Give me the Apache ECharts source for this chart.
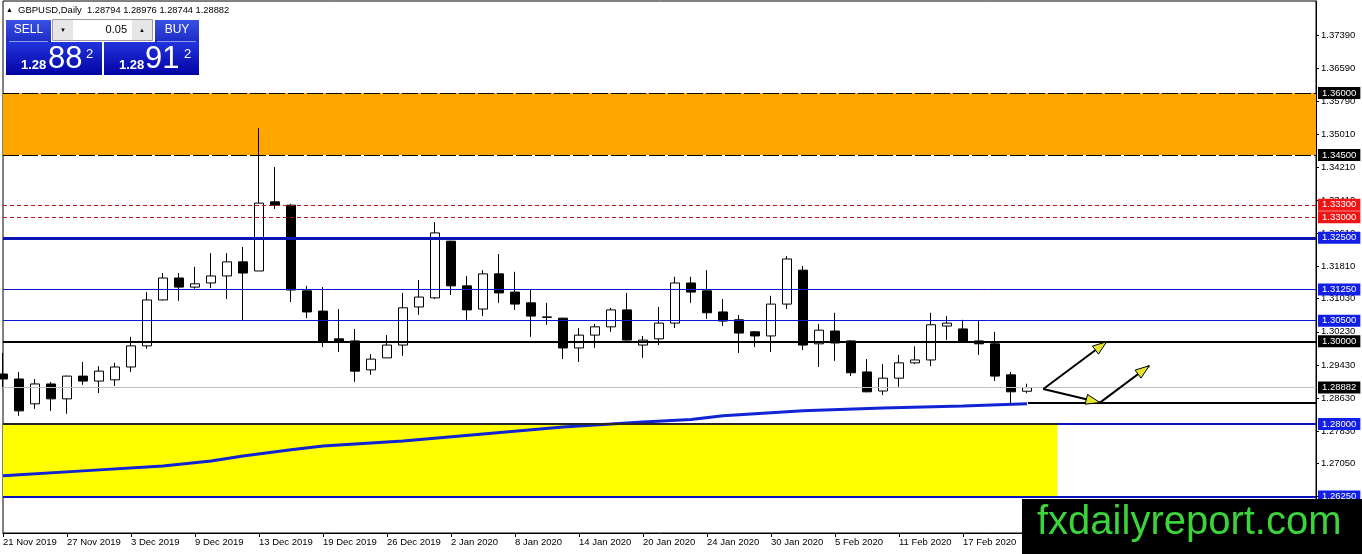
<!DOCTYPE html>
<html><head><meta charset="utf-8">
<script src="https://cdn.jsdelivr.net/npm/echarts@6/dist/echarts.min.js"></script>
<style>html,body{margin:0;padding:0;background:#fff;overflow:hidden}#c{width:1362px;height:554px}</style>
</head><body><div id="c"></div>
<script>
// ---------------- DATA ----------------
const symbolName = 'GBPUSD';
const timeframe = 'Daily';
const dates = ['21 Nov 2019','22 Nov 2019','25 Nov 2019','26 Nov 2019','27 Nov 2019','28 Nov 2019','29 Nov 2019','2 Dec 2019','3 Dec 2019','4 Dec 2019','5 Dec 2019','6 Dec 2019','9 Dec 2019','10 Dec 2019','11 Dec 2019','12 Dec 2019','13 Dec 2019','16 Dec 2019','17 Dec 2019','18 Dec 2019','19 Dec 2019','20 Dec 2019','23 Dec 2019','24 Dec 2019','26 Dec 2019','27 Dec 2019','30 Dec 2019','31 Dec 2019','2 Jan 2020','3 Jan 2020','6 Jan 2020','7 Jan 2020','8 Jan 2020','9 Jan 2020','10 Jan 2020','13 Jan 2020','14 Jan 2020','15 Jan 2020','16 Jan 2020','17 Jan 2020','20 Jan 2020','21 Jan 2020','22 Jan 2020','23 Jan 2020','24 Jan 2020','27 Jan 2020','28 Jan 2020','29 Jan 2020','30 Jan 2020','31 Jan 2020','3 Feb 2020','4 Feb 2020','5 Feb 2020','6 Feb 2020','7 Feb 2020','10 Feb 2020','11 Feb 2020','12 Feb 2020','13 Feb 2020','14 Feb 2020','17 Feb 2020','18 Feb 2020','19 Feb 2020','20 Feb 2020','21 Feb 2020'];
const opens  = [1.2921,1.2909,1.2849,1.2897,1.2861,1.2916,1.2904,1.2907,1.2938,1.2989,1.3100,1.3153,1.3131,1.3141,1.3158,1.3192,1.3170,1.3337,1.3329,1.3122,1.3073,1.3006,1.3001,1.2931,1.2960,1.2991,1.3083,1.3105,1.3242,1.3134,1.3078,1.3163,1.3119,1.3093,1.3059,1.3056,1.2984,1.3015,1.3035,1.3076,1.2991,1.3006,1.3044,1.3141,1.3122,1.3071,1.3052,1.3023,1.3013,1.3090,1.3172,1.2994,1.3025,1.3001,1.2926,1.2880,1.2911,1.2948,1.2955,1.3037,1.3030,1.3001,1.2994,1.2919,1.28794];
const closes = [1.2909,1.2832,1.2897,1.2861,1.2916,1.2904,1.2928,1.2938,1.2989,1.3100,1.3153,1.3131,1.3139,1.3158,1.3192,1.3165,1.3334,1.3329,1.3124,1.3071,1.3001,1.2998,1.2928,1.2957,1.2991,1.3081,1.3107,1.3262,1.3134,1.3076,1.3163,1.3117,1.3090,1.3061,1.3058,1.2984,1.3015,1.3035,1.3076,1.3003,1.3003,1.3044,1.3141,1.3119,1.3069,1.3049,1.3020,1.3013,1.3090,1.3199,1.2991,1.3027,1.2996,1.2924,1.2878,1.2911,1.2948,1.2955,1.3040,1.3044,1.3001,1.2994,1.2916,1.2878,1.28882];
const lows   = [1.2890,1.2820,1.2837,1.2832,1.2825,1.2895,1.2875,1.2892,1.2926,1.2982,1.3099,1.3098,1.3127,1.3129,1.3102,1.3049,1.3170,1.3320,1.3095,1.3056,1.2986,1.2974,1.2902,1.2919,1.2960,1.2965,1.3064,1.3102,1.3112,1.3052,1.3061,1.3093,1.3076,1.3011,1.3040,1.2957,1.2950,1.2984,1.3023,1.3002,1.2960,1.2991,1.3032,1.3093,1.3054,1.3037,1.2972,1.2986,1.2974,1.3078,1.2979,1.2938,1.2953,1.2916,1.2877,1.2870,1.2890,1.2945,1.2940,1.3003,1.2996,1.2967,1.2904,1.2849,1.28744];
const highs  = [1.2972,1.2926,1.2909,1.2902,1.2917,1.2950,1.2940,1.2948,1.3011,1.3119,1.3165,1.3165,1.3180,1.3213,1.3213,1.3228,1.3515,1.3421,1.3332,1.3134,1.3131,1.3078,1.3030,1.2969,1.3015,1.3117,1.3148,1.3288,1.3243,1.3158,1.3172,1.3211,1.3168,1.3124,1.3093,1.3057,1.3032,1.3042,1.3081,1.3117,1.3013,1.3083,1.3156,1.3156,1.3172,1.3102,1.3064,1.3025,1.3110,1.3206,1.3182,1.3042,1.3069,1.3002,1.2957,1.2945,1.2967,1.2988,1.3069,1.3061,1.3052,1.3049,1.3023,1.2926,1.28976];
// moving average read at a few candles
const maIndex  = [0,5,10,13,15,18,20,25,30,35,38,40,43,45,50,55,60,64];
const maValues = [1.2675,1.2687,1.2699,1.2711,1.2723,1.2738,1.2747,1.2759,1.2776,1.2793,1.2800,1.2805,1.2811,1.2820,1.2832,1.2839,1.2844,1.2849];
const yTickValues = [1.37390,1.36590,1.35790,1.35010,1.34210,1.33410,1.32610,1.31810,1.31030,1.30230,1.29430,1.28630,1.27830,1.27050,1.26250];
const xTickIndex = [0,4,8,12,16,20,24,28,32,36,40,44,48,52,56,60];
// drawn levels and zones
const orangeZone = [1.3450, 1.3600];
const yellowZone = [1.2625, 1.2800];
const yellowZoneEnd = 65.9;
const redLevels = [1.3330, 1.3300];
const blueThickLevel = 1.3250;
const blueThinLevels = [1.3125, 1.3050];
const blackLevel = 1.3000;
const supportLevel = 1.2800;
const lowerLevel = 1.2625;
const trendLevel = 1.2851, trendStart = 64.06;
const bid = 1.28882, ask = 1.28912, lot = '0.05';
// arrows: [fromIndex, fromPrice, toIndex, toPrice]
const arrows = [[65.02,1.2885,68.98,1.2999],[65.02,1.2885,68.56,1.2852],[68.56,1.2852,71.64,1.2941]];

// ---------------- CHART ----------------
const FONT = 'Liberation Sans';
const candles = dates.map((d,i)=>[i, opens[i], closes[i], lows[i], highs[i]]);
const maData = maIndex.map((x,i)=>[x, maValues[i]]);
const BLUE_LINE = '#0b14b4', BLUE_THIN = '#0a16d0', BLUE_BOX = '#1220e6', RED_BOX = '#f01414';

function lvl(value, lineStyle, bg) {
  const item = { yAxis: value, lineStyle: lineStyle, label: { show: false } };
  if (bg) item.label = { show: true, position: 'end', distance: 2, formatter: value.toFixed(5),
    backgroundColor: bg, color: '#fff', padding: [1,4,0,4], fontSize: 9.5, fontFamily: FONT, lineHeight: 11 };
  return item;
}
const markLines = [
  lvl(orangeZone[1], {color:'#000', width:1, type:[16,3]}, '#000'),
  lvl(orangeZone[0], {color:'#000', width:1, type:[16,3]}, '#000'),
  lvl(redLevels[0], {color:'#b81818', width:1, type:[4,3]}, RED_BOX),
  lvl(redLevels[1], {color:'#b81818', width:1, type:[4,3]}, RED_BOX),
  lvl(blueThickLevel, {color:BLUE_LINE, width:3, type:'solid'}, BLUE_BOX),
  lvl(blueThinLevels[0], {color:BLUE_THIN, width:1, type:'solid'}, BLUE_BOX),
  lvl(blueThinLevels[1], {color:BLUE_THIN, width:1, type:'solid'}, BLUE_BOX),
  lvl(blackLevel, {color:'#000', width:2, type:'solid'}, '#000'),
  lvl(bid, {color:'#c0c0c0', width:1, type:'solid'}, '#000'),
  lvl(supportLevel, {color:BLUE_LINE, width:2, type:'solid'}, BLUE_BOX),
  lvl(lowerLevel, {color:BLUE_LINE, width:2, type:'solid'}, BLUE_BOX),
  [{coord:[0, supportLevel], lineStyle:{color:'#262626', width:2, type:'solid'}, label:{show:false}}, {coord:[yellowZoneEnd, supportLevel]}],
  [{coord:[trendStart, trendLevel], lineStyle:{color:'#000', width:2, type:'solid'}, label:{show:false}}, {coord:[1313/16, trendLevel]}]
];

const chart = echarts.init(document.getElementById('c'), null, {renderer:'canvas'});
const grad = (a,b)=>new echarts.graphic.LinearGradient(0,0,0,1,[{offset:0,color:a},{offset:1,color:b}]);
const bidStr = bid.toFixed(5), askStr = ask.toFixed(5);
const last = opens.length - 1;
const header = [opens[last], highs[last], lows[last], closes[last]].map(v=>v.toFixed(5)).join(' ');
const Z = 100;
const T = (text, x, y, size, opt) => Object.assign({type:'text', z:Z, style:Object.assign({text, x, y, font: size+'px '+FONT, fill:'#fff', verticalAlign:'middle'}, opt||{})});

chart.setOption({
  animation: false,
  backgroundColor: '#fff',
  grid: { left: 3, right: 46, top: 1, bottom: 21, show: true, borderColor: '#000', borderWidth: 1, backgroundColor: '#fff' },
  xAxis: {
    type: 'value', min: 0, max: 1313/16,
    axisLine: { show: true, onZero: false, lineStyle: { color: '#000', width: 1 } },
    axisTick: { show: true, customValues: xTickIndex, length: 4, lineStyle: { color: '#000' } },
    axisLabel: { customValues: xTickIndex, formatter: v => dates[Math.round(v)], align: 'left', margin: 4,
      color: '#000', fontSize: 9.5, fontFamily: FONT },
    splitLine: { show: false }
  },
  yAxis: {
    type: 'value', position: 'right', min: 1.25369, max: 1.38223,
    axisLine: { show: true, onZero: false, lineStyle: { color: '#000', width: 1 } },
    axisTick: { show: true, customValues: yTickValues, length: 3, lineStyle: { color: '#000' } },
    axisLabel: { customValues: yTickValues, formatter: v => v.toFixed(5), margin: 5, color: '#000', fontSize: 9.5, fontFamily: FONT },
    splitLine: { show: false }
  },
  series: [
    {
      type: 'line', name: 'MA', data: maData, showSymbol: false, clip: false, z: 1,
      lineStyle: { color: '#1024d4', width: 3 }, silent: true,
      markArea: {
        silent: true, label: { show: false },
        data: [
          [{ yAxis: orangeZone[0], itemStyle: { color: '#ffa500' } }, { yAxis: orangeZone[1] }],
          [{ coord: [0, yellowZone[0]], itemStyle: { color: '#ffff00' } }, { coord: [yellowZoneEnd, yellowZone[1]] }]
        ]
      },
      markLine: { silent: true, precision: 5, symbol: ['none','none'], animation: false, label: { show: false }, data: markLines }
    },
    {
      type: 'candlestick', name: symbolName, data: candles, barWidth: 10, z: 3,
      itemStyle: { color: '#fff', color0: '#000', borderColor: '#000', borderColor0: '#000', borderWidth: 1 }
    },
    {
      type: 'custom', name: 'arrows', data: arrows, encode: { x: [0,2], y: [1,3] }, z: 6, clip: false, silent: true,
      renderItem: (params, api) => {
        const a = api.coord([api.value(0), api.value(1)]);
        const b = api.coord([api.value(2), api.value(3)]);
        const dx = b[0]-a[0], dy = b[1]-a[1], len = Math.hypot(dx,dy), ux = dx/len, uy = dy/len;
        const L = 14, W = 5, bx = b[0]-ux*L, by = b[1]-uy*L;
        return { type: 'group', children: [
          { type: 'line', shape: { x1:a[0], y1:a[1], x2:b[0], y2:b[1] }, style: { stroke:'#000', lineWidth:2 } },
          { type: 'polygon', shape: { points: [b, [bx-uy*W, by+ux*W], [bx+uy*W, by-ux*W]] }, style: { fill:'#e4e42c', stroke:'#000', lineWidth:1 } }
        ]};
      }
    }
  ],
  graphic: { elements: [
    T('▲', 6, 10, 7, {fill:'#000'}),
    T(symbolName + ',' + timeframe, 18, 10, 9.5, {fill:'#000'}),
    T(header, 87, 10, 9.3, {fill:'#000'}),
    // SELL header
    { type:'rect', z:Z, shape:{x:6,y:20,width:45,height:22}, style:{fill:grad('#3a50e4','#1c2cc4')} },
    T('SELL', 28.5, 30, 12, {align:'center'}),
    { type:'line', z:Z, shape:{x1:9,y1:41.5,x2:48,y2:41.5}, style:{stroke:'#8a98f4', lineWidth:1} },
    // lot control
    { type:'rect', z:Z, shape:{x:52.5,y:19.5,width:100,height:21}, style:{fill:'#fff', stroke:'#9a9a9a', lineWidth:1} },
    { type:'rect', z:Z, shape:{x:53,y:20,width:20,height:20}, style:{fill:'#e6e6e6'} },
    { type:'rect', z:Z, shape:{x:132,y:20,width:20,height:20}, style:{fill:'#e6e6e6'} },
    T('▼', 63, 30, 6, {align:'center', fill:'#000'}),
    T('▲', 142, 30, 6, {align:'center', fill:'#000'}),
    T(lot, 127, 30, 11, {align:'right', fill:'#000'}),
    // BUY header
    { type:'rect', z:Z, shape:{x:155,y:20,width:44,height:22}, style:{fill:grad('#3a50e4','#1c2cc4')} },
    T('BUY', 177, 30, 12, {align:'center'}),
    { type:'line', z:Z, shape:{x1:157,y1:41.5,x2:196,y2:41.5}, style:{stroke:'#8a98f4', lineWidth:1} },
    // price boxes
    { type:'rect', z:Z, shape:{x:6,y:42,width:96,height:33}, style:{fill:grad('#2234dc','#0202a4')} },
    { type:'rect', z:Z, shape:{x:104,y:42,width:95,height:33}, style:{fill:grad('#2234dc','#0202a4')} },
    T(bidStr.slice(0,4), 21, 65.5, 13, {font:'bold 13px '+FONT}),
    T(bidStr.slice(4,6), 48, 59, 31),
    T(bidStr.slice(6), 86, 54, 13),
    T(askStr.slice(0,4), 119, 65.5, 13, {font:'bold 13px '+FONT}),
    T(askStr.slice(4,6), 145, 59, 31),
    T(askStr.slice(6), 184, 54, 13),
    // watermark
    { type:'rect', z:Z, shape:{x:1022,y:499,width:340,height:55}, style:{fill:'#000'} },
    T('fxdailyreport.com', 1037, 523, 40, {fill:'#3bd43b'})
  ]}
});
</script></body></html>
